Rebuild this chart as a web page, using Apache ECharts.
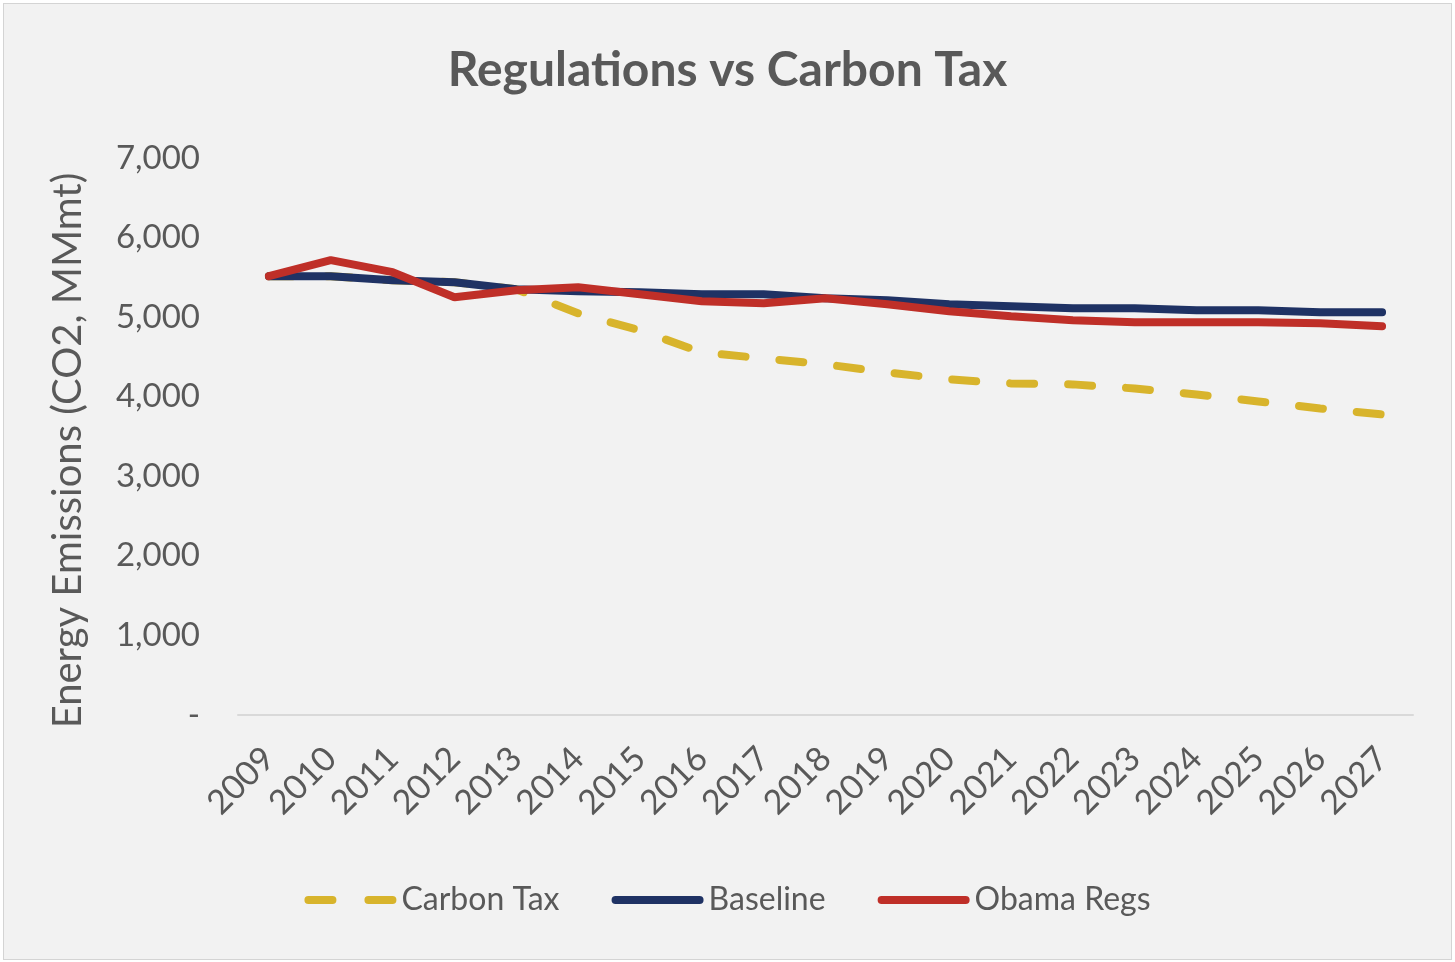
<!DOCTYPE html>
<html>
<head>
<meta charset="utf-8">
<script src="https://cdn.jsdelivr.net/npm/echarts@6/dist/echarts.min.js"></script>
<style>
html,body{margin:0;padding:0;background:#ffffff;}
#chart{position:absolute;left:3px;top:3px;width:1447px;height:955px;background:#f2f2f2;border:1px solid #d4d4d4;}
</style>
</head>
<body>
<div id="chart"></div>
<script>
var years = ['2009','2010','2011','2012','2013','2014','2015','2016','2017','2018','2019','2020','2021','2022','2023','2024','2025','2026','2027'];
var carbonTax = [5514,5514,5464,5439,5350,5048,4834,4557,4482,4406,4306,4218,4167,4155,4104,4029,3941,3853,3777];
var baseline  = [5514,5514,5464,5439,5350,5325,5313,5288,5288,5237,5212,5162,5137,5111,5111,5086,5086,5061,5061];
var obamaRegs = [5514,5716,5565,5250,5338,5376,5288,5200,5174,5237,5162,5074,5011,4960,4935,4935,4935,4922,4885];
var seriesNames = ['Carbon Tax','Baseline','Obama Regs'];
var colors = ['#d8b42c','#1f3264','#bf2f28'];

var dashIcon = 'path://M4,0H28A4,4,0,0,1,28,8H4A4,4,0,0,1,4,0Z M64,0H88A4,4,0,0,1,88,8H64A4,4,0,0,1,64,0Z';
var solidIcon = 'path://M4,0H88A4,4,0,0,1,88,8H4A4,4,0,0,1,4,0Z';

var chart = echarts.init(document.getElementById('chart'));
var font = 'Lato, "Open Sans", sans-serif';
chart.setOption({
  backgroundColor: '#f2f2f2',
  animation: false,
  title: {
    text: 'Regulations vs Carbon Tax',
    left: 'center',
    top: 38,
    textStyle: {fontFamily: font, fontSize: 48, fontWeight: 'bold', color: '#595959'}
  },
  legend: {
    bottom: 38,
    left: 'center',
    itemWidth: 92,
    itemHeight: 8,
    itemGap: 52,
    data: [
      {name: seriesNames[0], icon: dashIcon},
      {name: seriesNames[1], icon: solidIcon},
      {name: seriesNames[2], icon: solidIcon}
    ],
    textStyle: {fontFamily: font, fontSize: 32, color: '#595959'}
  },
  grid: {left: 234, right: 38, top: 154, bottom: 244, containLabel: false},
  xAxis: {
    type: 'category',
    data: years,
    boundaryGap: true,
    axisLine: {lineStyle: {color: '#d9d9d9', width: 2}},
    axisTick: {show: false},
    axisLabel: {rotate: 45, fontFamily: font, fontSize: 34, color: '#595959', margin: 38, interval: 0}
  },
  yAxis: {
    type: 'value',
    min: 0, max: 7000, interval: 1000,
    name: 'Energy Emissions (CO2, MMmt)',
    nameLocation: 'middle',
    nameGap: 150,
    nameTextStyle: {fontFamily: font, fontSize: 40, color: '#595959', padding: [0, 28, 0, 0]},
    axisLine: {show: false},
    axisTick: {show: false},
    splitLine: {show: false},
    axisLabel: {
      fontFamily: font, fontSize: 33, color: '#595959', margin: 38,
      formatter: function (v) { return v === 0 ? '-' : v.toLocaleString('en-US'); }
    }
  },
  series: [
    {name: seriesNames[0], type: 'line', data: carbonTax, symbol: 'none', color: colors[0],
     lineStyle: {width: 8, type: [24, 34], cap: 'round', color: colors[0]}},
    {name: seriesNames[1], type: 'line', data: baseline, symbol: 'none', color: colors[1],
     lineStyle: {width: 8, cap: 'round', color: colors[1]}},
    {name: seriesNames[2], type: 'line', data: obamaRegs, symbol: 'none', color: colors[2],
     lineStyle: {width: 8, cap: 'round', color: colors[2]}}
  ]
});
</script>
</body>
</html>
